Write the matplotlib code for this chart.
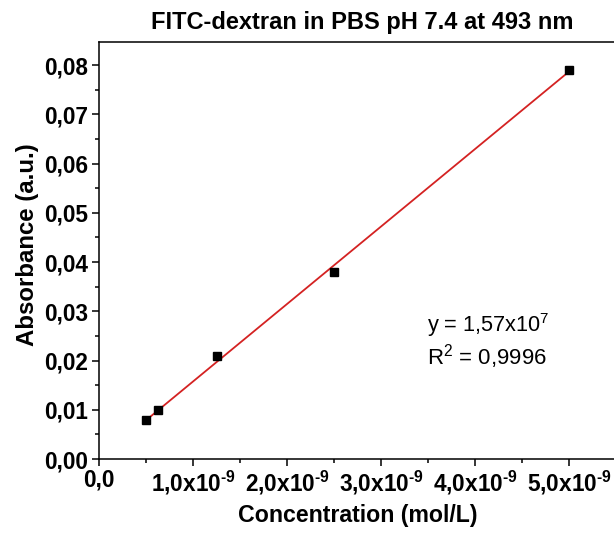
import numpy as np
import matplotlib
matplotlib.use("Agg")
import matplotlib.pyplot as plt
from matplotlib.ticker import FuncFormatter, FixedLocator

plt.rcParams['font.family'] = ['Liberation Sans', 'DejaVu Sans']
plt.rcParams['mathtext.fontset'] = 'custom'
plt.rcParams['mathtext.rm'] = 'Liberation Sans'
plt.rcParams['mathtext.bf'] = 'Liberation Sans:bold'
plt.rcParams['mathtext.it'] = 'Liberation Sans:italic'

# Data
concentration = [0.5e-9, 0.625e-9, 1.25e-9, 2.5e-9, 5.0e-9]
absorbance = [0.008, 0.010, 0.021, 0.038, 0.079]
x_ticks = [0.0, 1e-9, 2e-9, 3e-9, 4e-9, 5e-9]
x_minor = [0.5e-9, 1.5e-9, 2.5e-9, 3.5e-9, 4.5e-9]
y_ticks = [0.0, 0.01, 0.02, 0.03, 0.04, 0.05, 0.06, 0.07, 0.08]
y_minor = [0.005, 0.015, 0.025, 0.035, 0.045, 0.055, 0.065, 0.075]
title = "FITC-dextran in PBS pH 7.4 at 493 nm"
xlabel = "Concentration (mol/L)"
ylabel = "Absorbance (a.u.)"
eq_line1 = "y = 1,57x10$^{7}$"
eq_line2 = "R$^{2}$ = 0,9996"

x = np.array(concentration)
y = np.array(absorbance)
slope = np.sum(x * y) / np.sum(x * x)

fig = plt.figure(figsize=(6.14, 5.36), dpi=100)
ax = fig.add_axes([99/614, 77/536, 517/614, 417/536])

xf = np.array([x.min(), x.max()])
ax.plot(xf, slope * xf, color='#d42222', lw=1.3, zorder=2)
ax.plot(x, y, 's', color='black', ms=6, zorder=3)

ax.set_xlim(0, 5.5e-9)
ax.set_ylim(0, 0.0847)

ax.xaxis.set_major_locator(FixedLocator(x_ticks))
ax.xaxis.set_minor_locator(FixedLocator(x_minor))
ax.yaxis.set_major_locator(FixedLocator(y_ticks))
ax.yaxis.set_minor_locator(FixedLocator(y_minor))

def xfmt(v, pos):
    m = v / 1e-9
    if abs(m) < 1e-6:
        return "0,0"
    return ("%.1f" % m).replace('.', ',') + "x10$^{\\mathbf{\u20109}}$"

def yfmt(v, pos):
    return ("%.2f" % v).replace('.', ',')

ax.xaxis.set_major_formatter(FuncFormatter(xfmt))
ax.yaxis.set_major_formatter(FuncFormatter(yfmt))

ax.tick_params(which='major', direction='out', length=5, width=1.1, labelsize=16.3)
ax.tick_params(axis='x', which='major', pad=2)
ax.tick_params(axis='y', which='major', pad=3)
ax.tick_params(which='minor', direction='out', length=3, width=1.1)
for s in ax.spines.values():
    s.set_linewidth(1.1)

ax.set_xlabel(xlabel, fontsize=16.7, fontweight='bold', labelpad=5)
ax.set_ylabel(ylabel, fontsize=17.3, fontweight='bold', labelpad=4)
ax.yaxis.set_label_coords(-0.116, 0.513)
ax.set_title(title, fontsize=17, fontweight='bold', pad=9, x=0.509)

ax.text(427/614, (536-325)/536, eq_line1, transform=fig.transFigure,
        fontsize=15.7, va='center', ha='left')
ax.text(427/614, (536-357)/536, eq_line2, transform=fig.transFigure,
        fontsize=16, va='center', ha='left')

for lab in ax.get_xticklabels() + ax.get_yticklabels():
    lab.set_fontweight('bold')

fig.savefig("out.png", dpi=100)
